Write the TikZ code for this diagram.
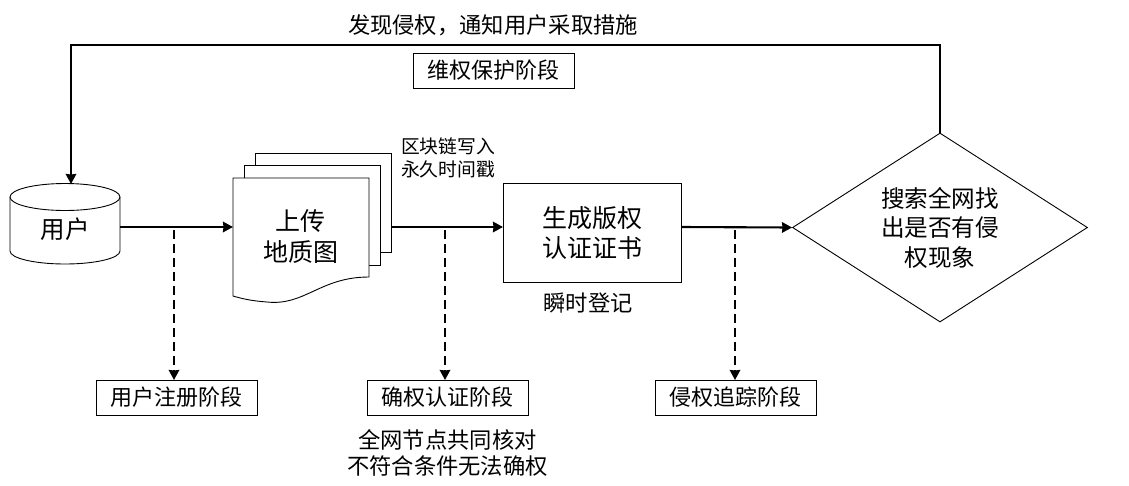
\documentclass[tikz,border=0pt]{standalone}
\usepackage{fontspec}
\setmainfont{Noto Sans CJK SC}
\usetikzlibrary{shapes,arrows,arrows.meta,positioning,calc}
\tikzstyle{block} = [rectangle, draw, line width=0.9pt, align=center, font=\fontsize{22}{29}\selectfont, inner sep=0pt]
\tikzstyle{stage} = [block, minimum width=161pt, minimum height=35pt]
\tikzstyle{label} = [align=center, font=\fontsize{22.3}{26}\selectfont, inner sep=0pt]
\tikzstyle{sheet} = [draw, line width=0.9pt, fill=white]
\tikzstyle{flow} = [line width=2.1pt, ->]
\tikzstyle{dashline} = [line width=2pt, ->, dash pattern=on 8.5pt off 5.5pt]

\begin{document}
\begin{tikzpicture}[x=1pt, y=-1pt, >={Stealth[length=10pt, width=10.5pt, inset=0.5pt]}]
    \useasboundingbox (0,0) rectangle (1129,485);

    % 用户
    \draw[sheet] (10,197) -- (10,251) arc[start angle=180, end angle=360, x radius=55pt, y radius=13pt] -- (120,197);
    \draw[sheet] (65,197) ellipse[x radius=55pt, y radius=13.5pt];
    \node[label, minimum width=110pt, font=\fontsize{24.5}{29}\selectfont] (user) at (65,229) {用户};

    % 上传地质图
    \draw[sheet] (255,153) -- (391,153) -- (391,252) -- (255,252) -- cycle;
    \draw[sheet] (244,165) -- (380,165) -- (380,265) -- (244,265) -- cycle;
    \draw[sheet] (233,178) -- (369,178) -- (369,277) .. controls (320,277) and (305,306) .. (267,302) .. controls (253,301) and (243,299) .. (233,296) -- cycle;
    \node[label, font=\fontsize{25}{31}\selectfont] (upload) at (300.5,237) {上传\\地质图};
    \coordinate (upin) at (233,227);
    \coordinate (upout) at (391,227);
    \node[label, font=\fontsize{18.8}{23}\selectfont] (chain) at (448,157.5) {区块链写入\\永久时间戳};

    % 证书
    \node[block, minimum width=178pt, minimum height=99pt, font=\fontsize{25}{30}\selectfont] (cert) at (592,232.5) {生成版权\\认证证书};
    \coordinate (certin) at (503,227);
    \coordinate (certout) at (681,227);
    \node[label] (instant) at (588,303) {瞬时登记};

    % 搜索
    \node[diamond, draw, line width=0.9pt, aspect=1.56, minimum width=295pt, minimum height=189pt, inner sep=0pt, align=center, font=\fontsize{23.6}{29.5}\selectfont] (search) at (940,227.5) {搜索全网找\\出是否有侵\\权现象};

    % 阶段
    \node[stage] (protect) at (493.5,70.5) {维权保护阶段};
    \node[stage] (register) at (176.5,397.5) {用户注册阶段};
    \node[stage] (confirm) at (447.5,397.5) {确权认证阶段};
    \node[stage] (track) at (735.5,397.5) {侵权追踪阶段};
    \node[label] (found) at (493,25) {发现侵权，通知用户采取措施};
    \node[label, below=14pt of confirm] (check) {全网节点共同核对\\不符合条件无法确权};

    % 连接
    \draw[flow] (user.east |- upin) -- (upin);
    \draw[flow] (upout) -- (certin);
    \draw[flow] (certout) -- (search.west);
    \draw[flow] (search.north) -- (940,45) -- (71,45) -- (71,184);

    % 虚线
    \draw[dashline] (174,230) -- (174,380);
    \draw[dashline] (445,230) -- (445,380);
    \draw[dashline] (735,230) -- (735,380);
\end{tikzpicture}
\end{document}
